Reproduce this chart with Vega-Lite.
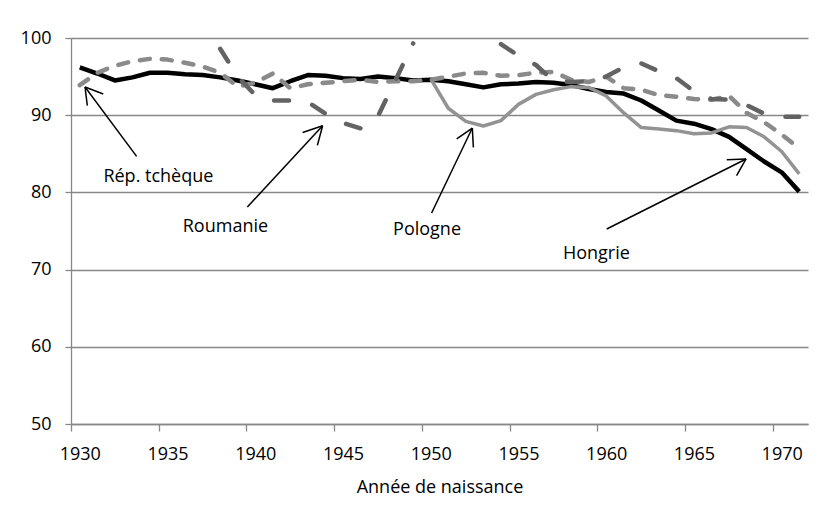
{
  "$schema": "https://vega.github.io/schema/vega-lite/v6.json",
  "width": 737,
  "height": 386,
  "autosize": {"type": "none"},
  "padding": {"left": 71, "top": 38, "right": 21, "bottom": 82},
  "background": "white",
  "config": {
    "view": {"stroke": null},
    "font": "Open Sans",
    "axis": {
      "labelFont": "Open Sans",
      "titleFont": "Open Sans",
      "labelFontSize": 18,
      "titleFontSize": 18,
      "titleFontWeight": "normal",
      "labelColor": "#000000",
      "titleColor": "#000000",
      "domainColor": "#878787",
      "tickColor": "#878787",
      "gridColor": "#878787",
      "domainWidth": 1.3,
      "tickWidth": 1.3,
      "gridWidth": 1.3
    }
  },
  "datasets": {
    "series": [
      {"x": 1930, "y": 96.2, "c": "Hongrie"}, {"x": 1931, "y": 95.4, "c": "Hongrie"}, {"x": 1932, "y": 94.5, "c": "Hongrie"}, {"x": 1933, "y": 94.9, "c": "Hongrie"}, {"x": 1934, "y": 95.5, "c": "Hongrie"}, {"x": 1935, "y": 95.5, "c": "Hongrie"}, {"x": 1936, "y": 95.3, "c": "Hongrie"}, {"x": 1937, "y": 95.2, "c": "Hongrie"}, {"x": 1938, "y": 94.9, "c": "Hongrie"}, {"x": 1939, "y": 94.5, "c": "Hongrie"}, {"x": 1940, "y": 94.0, "c": "Hongrie"}, {"x": 1941, "y": 93.5, "c": "Hongrie"}, {"x": 1942, "y": 94.4, "c": "Hongrie"}, {"x": 1943, "y": 95.2, "c": "Hongrie"}, {"x": 1944, "y": 95.1, "c": "Hongrie"}, {"x": 1945, "y": 94.8, "c": "Hongrie"}, {"x": 1946, "y": 94.7, "c": "Hongrie"}, {"x": 1947, "y": 95.0, "c": "Hongrie"}, {"x": 1948, "y": 94.8, "c": "Hongrie"}, {"x": 1949, "y": 94.5, "c": "Hongrie"}, {"x": 1950, "y": 94.6, "c": "Hongrie"}, {"x": 1951, "y": 94.4, "c": "Hongrie"}, {"x": 1952, "y": 94.0, "c": "Hongrie"}, {"x": 1953, "y": 93.6, "c": "Hongrie"}, {"x": 1954, "y": 94.0, "c": "Hongrie"}, {"x": 1955, "y": 94.1, "c": "Hongrie"}, {"x": 1956, "y": 94.3, "c": "Hongrie"}, {"x": 1957, "y": 94.2, "c": "Hongrie"}, {"x": 1958, "y": 93.9, "c": "Hongrie"}, {"x": 1959, "y": 93.4, "c": "Hongrie"}, {"x": 1960, "y": 93.0, "c": "Hongrie"}, {"x": 1961, "y": 92.8, "c": "Hongrie"}, {"x": 1962, "y": 91.9, "c": "Hongrie"}, {"x": 1963, "y": 90.6, "c": "Hongrie"}, {"x": 1964, "y": 89.3, "c": "Hongrie"}, {"x": 1965, "y": 88.9, "c": "Hongrie"}, {"x": 1966, "y": 88.2, "c": "Hongrie"}, {"x": 1967, "y": 87.2, "c": "Hongrie"}, {"x": 1968, "y": 85.6, "c": "Hongrie"}, {"x": 1969, "y": 84.0, "c": "Hongrie"}, {"x": 1970, "y": 82.6, "c": "Hongrie"}, {"x": 1971, "y": 80.1, "c": "Hongrie"},
      {"x": 1950, "y": 94.7, "c": "Pologne"}, {"x": 1951, "y": 90.9, "c": "Pologne"}, {"x": 1952, "y": 89.2, "c": "Pologne"}, {"x": 1953, "y": 88.6, "c": "Pologne"}, {"x": 1954, "y": 89.3, "c": "Pologne"}, {"x": 1955, "y": 91.4, "c": "Pologne"}, {"x": 1956, "y": 92.7, "c": "Pologne"}, {"x": 1957, "y": 93.3, "c": "Pologne"}, {"x": 1958, "y": 93.7, "c": "Pologne"}, {"x": 1959, "y": 93.6, "c": "Pologne"}, {"x": 1960, "y": 92.5, "c": "Pologne"}, {"x": 1961, "y": 90.3, "c": "Pologne"}, {"x": 1962, "y": 88.4, "c": "Pologne"}, {"x": 1963, "y": 88.2, "c": "Pologne"}, {"x": 1964, "y": 88.0, "c": "Pologne"}, {"x": 1965, "y": 87.6, "c": "Pologne"}, {"x": 1966, "y": 87.7, "c": "Pologne"}, {"x": 1967, "y": 88.5, "c": "Pologne"}, {"x": 1968, "y": 88.4, "c": "Pologne"}, {"x": 1969, "y": 87.2, "c": "Pologne"}, {"x": 1970, "y": 85.3, "c": "Pologne"}, {"x": 1971, "y": 82.4, "c": "Pologne"},
      {"x": 1930, "y": 93.9, "c": "Rép. tchèque"}, {"x": 1931, "y": 95.5, "c": "Rép. tchèque"}, {"x": 1932, "y": 96.4, "c": "Rép. tchèque"}, {"x": 1933, "y": 97.0, "c": "Rép. tchèque"}, {"x": 1934, "y": 97.3, "c": "Rép. tchèque"}, {"x": 1935, "y": 97.2, "c": "Rép. tchèque"}, {"x": 1936, "y": 96.8, "c": "Rép. tchèque"}, {"x": 1937, "y": 96.3, "c": "Rép. tchèque"}, {"x": 1938, "y": 95.5, "c": "Rép. tchèque"}, {"x": 1939, "y": 93.7, "c": "Rép. tchèque"}, {"x": 1940, "y": 94.2, "c": "Rép. tchèque"}, {"x": 1941, "y": 95.4, "c": "Rép. tchèque"}, {"x": 1942, "y": 93.5, "c": "Rép. tchèque"}, {"x": 1943, "y": 94.0, "c": "Rép. tchèque"}, {"x": 1944, "y": 94.2, "c": "Rép. tchèque"}, {"x": 1945, "y": 94.4, "c": "Rép. tchèque"}, {"x": 1946, "y": 94.6, "c": "Rép. tchèque"}, {"x": 1947, "y": 94.3, "c": "Rép. tchèque"}, {"x": 1948, "y": 94.4, "c": "Rép. tchèque"}, {"x": 1949, "y": 94.4, "c": "Rép. tchèque"}, {"x": 1950, "y": 94.6, "c": "Rép. tchèque"}, {"x": 1951, "y": 95.0, "c": "Rép. tchèque"}, {"x": 1952, "y": 95.4, "c": "Rép. tchèque"}, {"x": 1953, "y": 95.5, "c": "Rép. tchèque"}, {"x": 1954, "y": 95.1, "c": "Rép. tchèque"}, {"x": 1955, "y": 95.2, "c": "Rép. tchèque"}, {"x": 1956, "y": 95.5, "c": "Rép. tchèque"}, {"x": 1957, "y": 95.6, "c": "Rép. tchèque"}, {"x": 1958, "y": 94.6, "c": "Rép. tchèque"}, {"x": 1959, "y": 94.3, "c": "Rép. tchèque"}, {"x": 1960, "y": 95.0, "c": "Rép. tchèque"}, {"x": 1961, "y": 93.5, "c": "Rép. tchèque"}, {"x": 1962, "y": 93.3, "c": "Rép. tchèque"}, {"x": 1963, "y": 92.6, "c": "Rép. tchèque"}, {"x": 1964, "y": 92.4, "c": "Rép. tchèque"}, {"x": 1965, "y": 92.1, "c": "Rép. tchèque"}, {"x": 1966, "y": 92.0, "c": "Rép. tchèque"}, {"x": 1967, "y": 92.5, "c": "Rép. tchèque"}, {"x": 1968, "y": 90.3, "c": "Rép. tchèque"}, {"x": 1969, "y": 89.1, "c": "Rép. tchèque"}, {"x": 1970, "y": 87.5, "c": "Rép. tchèque"}, {"x": 1971, "y": 85.7, "c": "Rép. tchèque"},
      {"x": 1938, "y": 98.6, "c": "Roumanie"}, {"x": 1939, "y": 95.0, "c": "Roumanie"}, {"x": 1940, "y": 92.6, "c": "Roumanie"}, {"x": 1941, "y": 91.9, "c": "Roumanie"}, {"x": 1942, "y": 91.9, "c": "Roumanie"}, {"x": 1943, "y": 91.7, "c": "Roumanie"}, {"x": 1944, "y": 90.2, "c": "Roumanie"}, {"x": 1945, "y": 89.0, "c": "Roumanie"}, {"x": 1946, "y": 88.3, "c": "Roumanie"}, {"x": 1947, "y": 89.9, "c": "Roumanie"}, {"x": 1948, "y": 94.6, "c": "Roumanie"}, {"x": 1949, "y": 99.3, "c": "Roumanie"}, {"x": 1950, "y": null, "c": "Roumanie"}, {"x": 1951, "y": null, "c": "Roumanie"}, {"x": 1952, "y": null, "c": "Roumanie"}, {"x": 1953, "y": null, "c": "Roumanie"}, {"x": 1954, "y": 99.2, "c": "Roumanie"}, {"x": 1955, "y": 97.7, "c": "Roumanie"}, {"x": 1956, "y": 96.5, "c": "Roumanie"}, {"x": 1957, "y": 94.4, "c": "Roumanie"}, {"x": 1958, "y": 94.3, "c": "Roumanie"}, {"x": 1959, "y": 94.4, "c": "Roumanie"}, {"x": 1960, "y": 95.0, "c": "Roumanie"}, {"x": 1961, "y": 96.2, "c": "Roumanie"}, {"x": 1962, "y": 96.7, "c": "Roumanie"}, {"x": 1963, "y": 95.7, "c": "Roumanie"}, {"x": 1964, "y": 94.8, "c": "Roumanie"}, {"x": 1965, "y": 93.1, "c": "Roumanie"}, {"x": 1966, "y": 92.1, "c": "Roumanie"}, {"x": 1967, "y": 92.0, "c": "Roumanie"}, {"x": 1968, "y": 91.3, "c": "Roumanie"}, {"x": 1969, "y": 90.2, "c": "Roumanie"}, {"x": 1970, "y": 89.8, "c": "Roumanie"}, {"x": 1971, "y": 89.8, "c": "Roumanie"}
    ],
    "labels": [
      {"x": 1934.48, "y": 81.3, "text": "Rép. tchèque"},
      {"x": 1938.3, "y": 74.82, "text": "Roumanie"},
      {"x": 1949.79, "y": 74.52, "text": "Pologne"},
      {"x": 1959.44, "y": 71.37, "text": "Hongrie"}
    ],
    "arrows": [
      {"x": 1933.24, "y": 84.66, "x2": 1930.3, "y2": 93.65},
      {"x": 1930.3, "y": 93.65, "x2": 1930.43, "y2": 91.23},
      {"x": 1930.3, "y": 93.65, "x2": 1931.34, "y2": 92.75},
      {"x": 1939.55, "y": 78.11, "x2": 1943.84, "y2": 88.64},
      {"x": 1943.84, "y": 88.64, "x2": 1942.7, "y2": 87.77},
      {"x": 1943.84, "y": 88.64, "x2": 1943.54, "y2": 86.09},
      {"x": 1950.05, "y": 77.33, "x2": 1952.37, "y2": 88.34},
      {"x": 1952.37, "y": 88.34, "x2": 1951.48, "y2": 86.92},
      {"x": 1952.37, "y": 88.34, "x2": 1952.43, "y2": 85.83},
      {"x": 1960.03, "y": 75.26, "x2": 1967.97, "y2": 84.33},
      {"x": 1967.97, "y": 84.33, "x2": 1966.87, "y2": 84.24},
      {"x": 1967.97, "y": 84.33, "x2": 1967.43, "y2": 82.16}
    ]
  },
  "encoding": {
    "x": {
      "field": "x",
      "type": "quantitative",
      "title": "Année de naissance",
      "scale": {"domain": [1929.5, 1971.5], "nice": false, "zero": false},
      "axis": {
        "values": [1930, 1935, 1940, 1945, 1950, 1955, 1960, 1965, 1970],
        "format": "d",
        "grid": false,
        "tickOffset": -8.77,
        "labelOffset": 8.77,
        "tickSize": 7,
        "labelPadding": 14,
        "titlePadding": 15
      }
    },
    "y": {
      "field": "y",
      "type": "quantitative",
      "title": null,
      "scale": {"domain": [50, 100], "nice": false, "zero": false},
      "axis": {
        "values": [50, 60, 70, 80, 90, 100],
        "grid": true,
        "tickSize": 6,
        "labelPadding": 14
      }
    }
  },
  "layer": [
    {
      "data": {"name": "series"},
      "transform": [{"filter": "datum.c === 'Hongrie'"}],
      "mark": {"type": "line", "color": "#000000", "strokeWidth": 4.5, "strokeJoin": "round"}
    },
    {
      "data": {"name": "series"},
      "transform": [{"filter": "datum.c === 'Pologne'"}],
      "mark": {"type": "line", "color": "#939393", "strokeWidth": 3.5, "strokeJoin": "round"}
    },
    {
      "data": {"name": "series"},
      "transform": [{"filter": "datum.c === 'Rép. tchèque'"}],
      "mark": {"type": "line", "color": "#8a8a8a", "strokeWidth": 4.5, "strokeDash": [10, 12], "strokeCap": "round", "strokeJoin": "round"}
    },
    {
      "data": {"name": "series"},
      "transform": [{"filter": "datum.c === 'Roumanie'"}],
      "mark": {"type": "line", "color": "#636363", "strokeWidth": 4.5, "strokeDash": [15, 24], "strokeCap": "round", "strokeJoin": "round"}
    },
    {
      "data": {"name": "arrows"},
      "mark": {"type": "rule", "color": "#000000", "strokeWidth": 1.5},
      "encoding": {
        "x2": {"field": "x2"},
        "y2": {"field": "y2"}
      }
    },
    {
      "data": {"name": "labels"},
      "mark": {"type": "text", "font": "Open Sans", "fontSize": 18, "color": "#000000", "align": "center", "baseline": "alphabetic"},
      "encoding": {
        "text": {"field": "text"}
      }
    }
  ]
}
